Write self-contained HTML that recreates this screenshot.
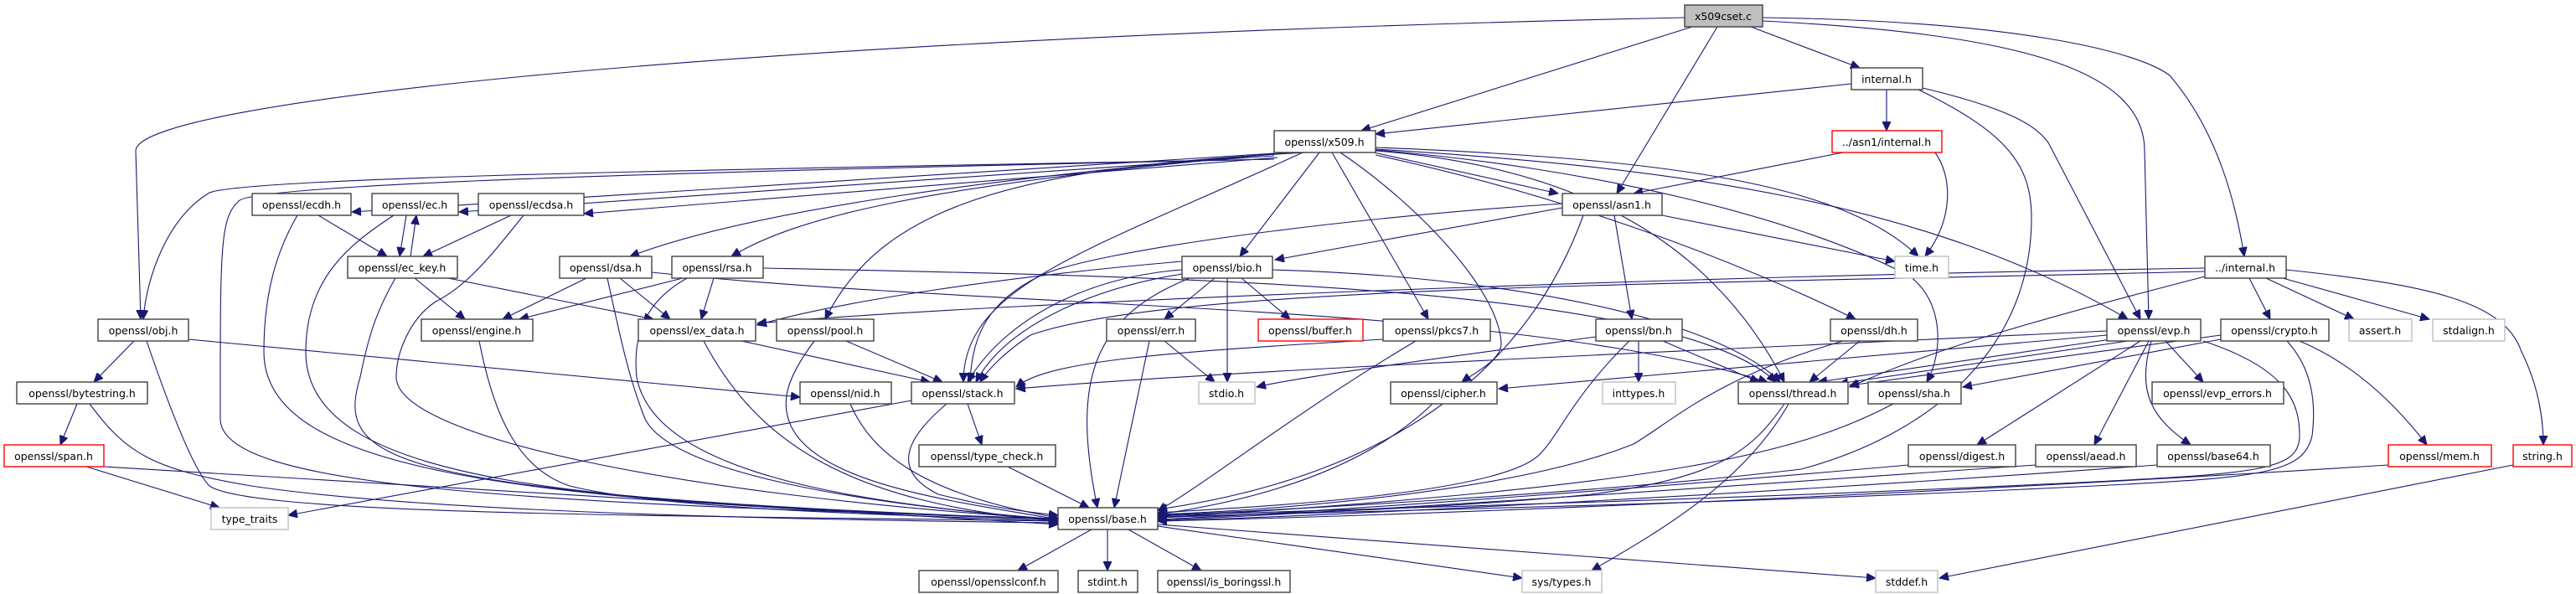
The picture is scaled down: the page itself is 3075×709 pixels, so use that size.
<!DOCTYPE html>
<html><head><meta charset="utf-8"><style>
html,body{margin:0;padding:0;background:#fff;}
svg{display:block;}
text{font-family:"DejaVu Sans","Liberation Sans",sans-serif;font-size:12.5px;fill:#000;text-anchor:middle;}
.e{fill:none;stroke:#191970;stroke-width:1.1;marker-end:url(#a);}
.b{fill:#fff;stroke:#404040;stroke-width:1.4;}
.g{fill:#fff;stroke:#bfbfbf;stroke-width:1.4;}
.r{fill:#fff;stroke:#ff0000;stroke-width:1.4;}
</style></head><body>
<svg width="3075" height="709" viewBox="0 0 3075 709" xmlns="http://www.w3.org/2000/svg">
<defs><marker id="a" markerUnits="userSpaceOnUse" markerWidth="12" markerHeight="10" refX="11" refY="5" orient="auto"><path d="M0,0 L11,5 L0,10 z" fill="#191970" stroke="#191970"/></marker></defs>
<g>
<path class="e" d="M2011,21 C900,45 162,120 162,180 L168,381"/>
<path class="e" d="M2020,32 L1625,156"/>
<path class="e" d="M2050,32 L1930,231"/>
<path class="e" d="M2090,32 L2220,81"/>
<path class="e" d="M2104,25 C2400,40 2560,80 2560,180 L2565,381"/>
<path class="e" d="M2104,21 C2400,25 2550,60 2590,90 C2650,160 2670,250 2679,306"/>
<path class="e" d="M2210,100 L1642,160"/>
<path class="e" d="M2252,107 L2252,156"/>
<path class="e" d="M2295,105 C2400,130 2430,150 2445,170 L2555,381"/>
<path class="e" d="M2290,107 C2400,160 2425,200 2425,260 C2425,420 2300,520 2150,560 C1900,590 1500,610 1382,615"/>
<path class="e" d="M2200,182 L1950,231"/>
<path class="e" d="M2310,182 C2330,210 2333,260 2298,306"/>
<path class="e" d="M1521,190 C1000,200 300,210 250,230 C200,260 175,330 171,381"/>
<path class="e" d="M1521,190 C800,205 300,220 285,240 C262,260 263,300 263,500 C263,580 600,600 1263,619"/>
<path class="e" d="M1521,183 L420,253"/>
<path class="e" d="M1521,186 L548,253"/>
<path class="e" d="M1525,188 L697,255"/>
<path class="e" d="M1540,182 C1200,210 900,250 752,306"/>
<path class="e" d="M1545,182 C1100,220 950,260 873,306"/>
<path class="e" d="M1560,182 C1200,200 1050,250 985,381"/>
<path class="e" d="M1555,182 C1300,300 1150,340 1150,456"/>
<path class="e" d="M1640,182 L1860,231"/>
<path class="e" d="M1575,182 L1480,306"/>
<path class="e" d="M1590,182 L1705,381"/>
<path class="e" d="M1600,182 C1700,250 1790,350 1792,410 C1792,430 1760,445 1745,456"/>
<path class="e" d="M1642,185 C1850,230 2050,300 2215,381"/>
<path class="e" d="M1642,180 C1900,200 2050,300 2130,456"/>
<path class="e" d="M1642,179 C1900,200 2150,260 2280,330 C2320,360 2320,420 2300,456"/>
<path class="e" d="M1642,178 C2000,200 2300,240 2540,381"/>
<path class="e" d="M1642,176 C2000,190 2200,220 2290,306"/>
<path class="e" d="M380,257 L462,306"/>
<path class="e" d="M355,257 C330,300 315,350 315,420 C315,560 600,600 1263,620"/>
<path class="e" d="M485,257 L477,306"/>
<path class="e" d="M490,306 L497,257"/>
<path class="e" d="M470,257 C420,290 365,330 365,420 C365,580 700,600 1263,620"/>
<path class="e" d="M610,257 L505,306"/>
<path class="e" d="M625,257 C590,300 560,340 520,360 C490,380 473,420 473,450 C473,520 800,590 1263,620"/>
<path class="e" d="M495,332 L555,381"/>
<path class="e" d="M535,332 L780,381"/>
<path class="e" d="M472,332 C450,370 440,400 430,450 C400,550 450,590 1263,620"/>
<path class="e" d="M700,332 L600,381"/>
<path class="e" d="M740,332 L800,381"/>
<path class="e" d="M725,332 C740,400 750,450 770,500 C800,560 1000,600 1263,620"/>
<path class="e" d="M778,325 C1200,370 1800,360 2110,456"/>
<path class="e" d="M815,332 L620,381"/>
<path class="e" d="M852,332 L837,381"/>
<path class="e" d="M820,332 C770,360 755,400 760,450 C780,560 1000,600 1263,620"/>
<path class="e" d="M911,320 C1400,330 2000,340 2120,456"/>
<path class="e" d="M160,407 L112,456"/>
<path class="e" d="M225,405 L955,474"/>
<path class="e" d="M175,407 C200,480 230,560 250,580 C300,615 800,615 1263,622"/>
<path class="e" d="M92,482 L72,531"/>
<path class="e" d="M107,482 C150,540 180,560 300,580 C500,610 900,620 1263,624"/>
<path class="e" d="M103,557 L262,606"/>
<path class="e" d="M124,557 L1263,626"/>
<path class="e" d="M572,407 C590,500 620,560 680,580 C800,610 1100,615 1263,622"/>
<path class="e" d="M885,407 L1110,456"/>
<path class="e" d="M840,407 C900,520 1000,600 1263,622"/>
<path class="e" d="M1010,407 L1125,456"/>
<path class="e" d="M972,407 C940,450 930,480 945,510 C980,580 1150,600 1263,620"/>
<path class="e" d="M1015,482 C1040,540 1100,590 1263,618"/>
<path class="e" d="M1155,482 L1172,531"/>
<path class="e" d="M1130,482 C1085,520 1060,560 1120,590 C1180,605 1230,612 1263,615"/>
<path class="e" d="M1088,478 L344,615"/>
<path class="e" d="M1203,557 L1300,606"/>
<path class="e" d="M1411,322 C1300,330 1200,380 1155,456"/>
<path class="e" d="M1411,327 C1300,345 1200,390 1165,456"/>
<path class="e" d="M1450,332 L1390,381"/>
<path class="e" d="M1465,332 L1465,456"/>
<path class="e" d="M1482,332 L1540,381"/>
<path class="e" d="M1420,332 C1300,380 1280,460 1310,606"/>
<path class="e" d="M1411,312 C1200,330 1000,360 904,388"/>
<path class="e" d="M1519,322 C1800,330 2050,380 2125,456"/>
<path class="e" d="M1390,407 L1450,456"/>
<path class="e" d="M1372,407 L1330,606"/>
<path class="e" d="M1651,405 C1400,420 1250,430 1213,462"/>
<path class="e" d="M1690,407 C1550,490 1450,570 1382,610"/>
<path class="e" d="M1956,407 L1956,456"/>
<path class="e" d="M1985,407 L2100,456"/>
<path class="e" d="M1905,402 C1700,430 1550,450 1500,462"/>
<path class="e" d="M1945,407 C1880,470 1860,520 1840,540 C1800,590 1500,605 1382,612"/>
<path class="e" d="M1865,248 L1522,310"/>
<path class="e" d="M1984,257 L2262,312"/>
<path class="e" d="M1927,257 L1948,381"/>
<path class="e" d="M1890,257 C1820,450 1650,570 1382,608"/>
<path class="e" d="M1865,243 C1600,260 1300,300 1240,330 C1180,360 1160,400 1158,456"/>
<path class="e" d="M2220,407 L2160,456"/>
<path class="e" d="M2200,407 C2050,450 2000,500 1950,530 C1800,590 1500,610 1382,614"/>
<path class="e" d="M1710,482 C1650,540 1550,590 1382,614"/>
<path class="e" d="M2135,482 C2080,580 1970,640 1900,681"/>
<path class="e" d="M2130,482 C2090,540 2050,570 1900,590 C1700,610 1450,615 1382,617"/>
<path class="e" d="M2260,482 C2150,540 2000,580 1382,618"/>
<path class="e" d="M2515,395 C2000,420 1500,440 1213,464"/>
<path class="e" d="M2515,400 L1789,464"/>
<path class="e" d="M2520,405 L2170,456"/>
<path class="e" d="M2540,407 L2195,458"/>
<path class="e" d="M2651,405 L2343,462"/>
<path class="e" d="M2651,400 L2208,460"/>
<path class="e" d="M2585,407 L2630,456"/>
<path class="e" d="M2555,407 L2360,531"/>
<path class="e" d="M2565,407 L2500,531"/>
<path class="e" d="M2568,407 C2550,470 2570,500 2615,531"/>
<path class="e" d="M2630,407 C2730,440 2745,480 2745,520 C2745,560 2700,565 2500,575 C2000,600 1500,610 1382,616"/>
<path class="e" d="M2685,332 L2710,381"/>
<path class="e" d="M2705,332 L2810,381"/>
<path class="e" d="M2725,332 L2900,381"/>
<path class="e" d="M2729,322 C2900,340 2990,360 3010,420 C3030,460 3036,500 3036,531"/>
<path class="e" d="M2632,330 C2400,390 2300,420 2208,462"/>
<path class="e" d="M2632,320 C2000,330 1200,360 904,386"/>
<path class="e" d="M2632,324 C2000,340 1400,340 1230,400 C1200,420 1180,440 1170,456"/>
<path class="e" d="M2745,407 C2800,430 2850,470 2897,531"/>
<path class="e" d="M2730,407 C2760,440 2765,480 2760,520 C2750,565 2700,570 2500,580 C2000,605 1500,612 1382,618"/>
<path class="e" d="M2278,555 C2000,580 1600,610 1382,620"/>
<path class="e" d="M2430,555 C2000,585 1600,612 1382,621"/>
<path class="e" d="M2575,555 C2100,590 1600,615 1382,622"/>
<path class="e" d="M2851,555 C2300,590 1700,615 1382,622"/>
<path class="e" d="M3000,555 L2315,690"/>
<path class="e" d="M1303,632 L1215,681"/>
<path class="e" d="M1322,632 L1322,681"/>
<path class="e" d="M1347,632 L1434,681"/>
<path class="e" d="M1382,628 L1817,690"/>
<path class="e" d="M1382,626 L2239,690"/>
</g>
<g>
<rect x="2011" y="6" width="93" height="26" fill="#bfbfbf" stroke="#404040" stroke-width="1.4"/><text x="2057" y="24">x509cset.c</text>
<rect class="b" x="2210" y="81" width="85" height="26"/><text x="2252" y="99">internal.h</text>
<rect class="b" x="1521" y="156" width="121" height="26"/><text x="1581" y="174">openssl/x509.h</text>
<rect class="r" x="2187" y="156" width="131" height="26"/><text x="2252" y="174">../asn1/internal.h</text>
<rect class="b" x="301" y="231" width="118" height="26"/><text x="360" y="249">openssl/ecdh.h</text>
<rect class="b" x="444" y="231" width="103" height="26"/><text x="495" y="249">openssl/ec.h</text>
<rect class="b" x="571" y="231" width="126" height="26"/><text x="634" y="249">openssl/ecdsa.h</text>
<rect class="b" x="1865" y="231" width="119" height="26"/><text x="1924" y="249">openssl/asn1.h</text>
<rect class="b" x="415" y="306" width="131" height="26"/><text x="480" y="324">openssl/ec_key.h</text>
<rect class="b" x="668" y="306" width="110" height="26"/><text x="723" y="324">openssl/dsa.h</text>
<rect class="b" x="802" y="306" width="109" height="26"/><text x="856" y="324">openssl/rsa.h</text>
<rect class="b" x="1411" y="306" width="108" height="26"/><text x="1465" y="324">openssl/bio.h</text>
<rect class="g" x="2262" y="306" width="64" height="26"/><text x="2294" y="324">time.h</text>
<rect class="b" x="2632" y="306" width="97" height="26"/><text x="2680" y="324">../internal.h</text>
<rect class="b" x="117" y="381" width="108" height="26"/><text x="171" y="399">openssl/obj.h</text>
<rect class="b" x="503" y="381" width="133" height="26"/><text x="569" y="399">openssl/engine.h</text>
<rect class="b" x="762" y="381" width="140" height="26"/><text x="832" y="399">openssl/ex_data.h</text>
<rect class="b" x="927" y="381" width="116" height="26"/><text x="985" y="399">openssl/pool.h</text>
<rect class="b" x="1321" y="381" width="106" height="26"/><text x="1374" y="399">openssl/err.h</text>
<rect class="r" x="1502" y="381" width="125" height="26"/><text x="1564" y="399">openssl/buffer.h</text>
<rect class="b" x="1651" y="381" width="128" height="26"/><text x="1715" y="399">openssl/pkcs7.h</text>
<rect class="b" x="1905" y="381" width="103" height="26"/><text x="1956" y="399">openssl/bn.h</text>
<rect class="b" x="2185" y="381" width="104" height="26"/><text x="2237" y="399">openssl/dh.h</text>
<rect class="b" x="2515" y="381" width="112" height="26"/><text x="2571" y="399">openssl/evp.h</text>
<rect class="b" x="2651" y="381" width="129" height="26"/><text x="2715" y="399">openssl/crypto.h</text>
<rect class="g" x="2804" y="381" width="75" height="26"/><text x="2841" y="399">assert.h</text>
<rect class="g" x="2904" y="381" width="86" height="26"/><text x="2947" y="399">stdalign.h</text>
<rect class="b" x="20" y="456" width="156" height="26"/><text x="98" y="474">openssl/bytestring.h</text>
<rect class="b" x="955" y="456" width="109" height="26"/><text x="1009" y="474">openssl/nid.h</text>
<rect class="b" x="1088" y="456" width="123" height="26"/><text x="1149" y="474">openssl/stack.h</text>
<rect class="g" x="1431" y="456" width="67" height="26"/><text x="1464" y="474">stdio.h</text>
<rect class="b" x="1660" y="456" width="127" height="26"/><text x="1723" y="474">openssl/cipher.h</text>
<rect class="g" x="1913" y="456" width="87" height="26"/><text x="1956" y="474">inttypes.h</text>
<rect class="b" x="2075" y="456" width="131" height="26"/><text x="2140" y="474">openssl/thread.h</text>
<rect class="b" x="2230" y="456" width="111" height="26"/><text x="2285" y="474">openssl/sha.h</text>
<rect class="b" x="2569" y="456" width="157" height="26"/><text x="2647" y="474">openssl/evp_errors.h</text>
<rect class="r" x="5" y="531" width="119" height="26"/><text x="64" y="549">openssl/span.h</text>
<rect class="b" x="1097" y="531" width="163" height="26"/><text x="1178" y="549">openssl/type_check.h</text>
<rect class="b" x="2278" y="531" width="128" height="26"/><text x="2342" y="549">openssl/digest.h</text>
<rect class="b" x="2430" y="531" width="120" height="26"/><text x="2490" y="549">openssl/aead.h</text>
<rect class="b" x="2575" y="531" width="135" height="26"/><text x="2642" y="549">openssl/base64.h</text>
<rect class="r" x="2851" y="531" width="123" height="26"/><text x="2912" y="549">openssl/mem.h</text>
<rect class="r" x="3000" y="531" width="70" height="26"/><text x="3035" y="549">string.h</text>
<rect class="g" x="252" y="606" width="92" height="26"/><text x="298" y="624">type_traits</text>
<rect class="b" x="1263" y="606" width="119" height="26"/><text x="1322" y="624">openssl/base.h</text>
<rect class="b" x="1097" y="681" width="166" height="26"/><text x="1180" y="699">openssl/opensslconf.h</text>
<rect class="b" x="1287" y="681" width="71" height="26"/><text x="1322" y="699">stdint.h</text>
<rect class="b" x="1382" y="681" width="158" height="26"/><text x="1461" y="699">openssl/is_boringssl.h</text>
<rect class="g" x="1817" y="681" width="95" height="26"/><text x="1864" y="699">sys/types.h</text>
<rect class="g" x="2239" y="681" width="74" height="26"/><text x="2276" y="699">stddef.h</text>
</g>
</svg>
</body></html>
